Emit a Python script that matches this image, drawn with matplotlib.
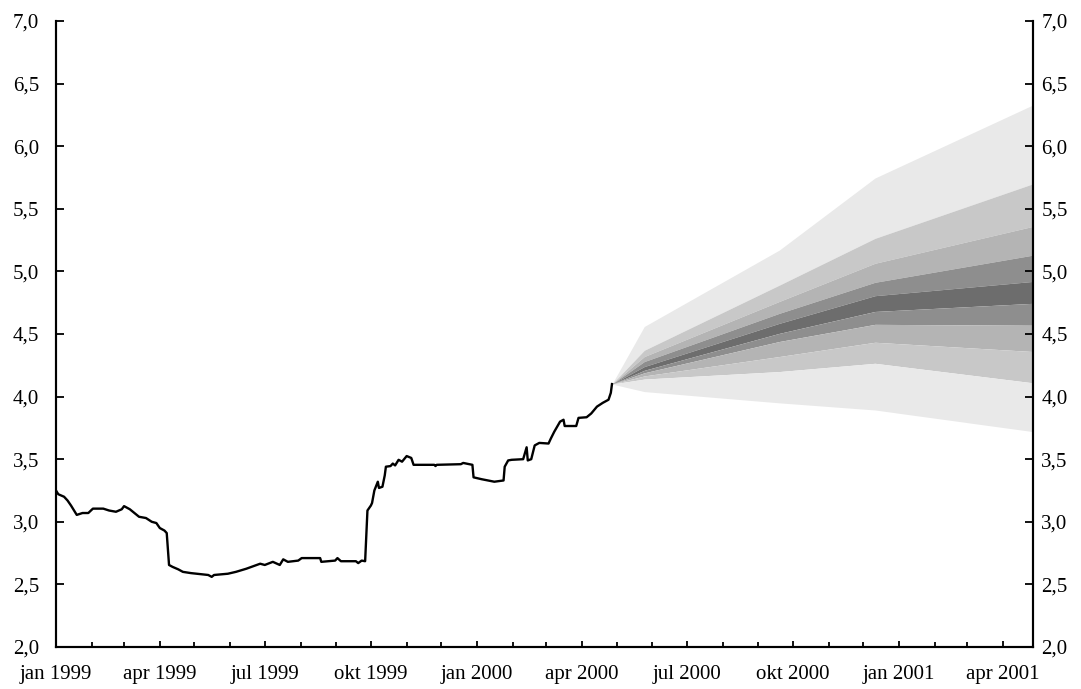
import matplotlib
matplotlib.use("Agg")
import matplotlib.pyplot as plt
import matplotlib.dates as mdates
import pandas as pd
from matplotlib.ticker import FixedLocator, FuncFormatter

# Observed rate (per cent)
hist_dates = [
    "1999-01-01", "1999-01-03", "1999-01-08", "1999-01-11", "1999-01-14", "1999-01-19",
    "1999-01-24", "1999-01-29", "1999-02-02", "1999-02-11", "1999-02-16", "1999-02-22",
    "1999-02-27", "1999-03-01", "1999-03-06", "1999-03-10", "1999-03-14", "1999-03-20",
    "1999-03-25", "1999-03-29", "1999-04-01", "1999-04-05", "1999-04-07", "1999-04-09",
    "1999-04-12", "1999-04-17", "1999-04-21", "1999-04-28", "1999-05-13", "1999-05-16",
    "1999-05-18", "1999-05-30", "1999-06-06", "1999-06-15", "1999-06-27", "1999-07-01",
    "1999-07-08", "1999-07-14", "1999-07-17", "1999-07-21", "1999-07-30", "1999-08-02",
    "1999-08-18", "1999-08-19", "1999-08-31", "1999-09-02", "1999-09-05", "1999-09-18",
    "1999-09-20", "1999-09-23", "1999-09-26", "1999-09-28", "1999-10-01", "1999-10-02",
    "1999-10-04", "1999-10-07", "1999-10-08", "1999-10-11", "1999-10-13", "1999-10-14",
    "1999-10-18", "1999-10-20", "1999-10-22", "1999-10-25", "1999-10-28", "1999-11-01",
    "1999-11-05", "1999-11-07", "1999-11-25", "1999-11-26", "1999-11-27", "1999-12-18",
    "1999-12-20", "1999-12-28", "1999-12-29", "2000-01-05", "2000-01-16", "2000-01-24",
    "2000-01-25", "2000-01-28", "2000-01-31", "2000-02-10", "2000-02-13", "2000-02-14",
    "2000-02-17", "2000-02-20", "2000-02-24", "2000-03-03", "2000-03-05", "2000-03-08",
    "2000-03-13", "2000-03-16", "2000-03-17", "2000-03-27", "2000-03-29", "2000-04-05",
    "2000-04-09", "2000-04-14", "2000-04-19", "2000-04-24", "2000-04-26", "2000-04-27",
]
hist_values = [
    3.25, 3.22, 3.20, 3.17, 3.13, 3.055,
    3.07, 3.07, 3.105, 3.105, 3.09, 3.08,
    3.10, 3.125, 3.10, 3.07, 3.04, 3.03,
    3.00, 2.99, 2.95, 2.93, 2.91, 2.655,
    2.64, 2.62, 2.60, 2.59, 2.575, 2.56,
    2.575, 2.585, 2.60, 2.625, 2.665, 2.655,
    2.68, 2.655, 2.70, 2.68, 2.69, 2.71,
    2.71, 2.68, 2.69, 2.71, 2.685, 2.685,
    2.67, 2.69, 2.685, 3.09, 3.13, 3.15,
    3.25, 3.32, 3.27, 3.28, 3.37, 3.44,
    3.445, 3.465, 3.45, 3.495, 3.48, 3.525,
    3.51, 3.455, 3.455, 3.445, 3.455, 3.46,
    3.47, 3.455, 3.355, 3.34, 3.32, 3.33,
    3.44, 3.49, 3.495, 3.50, 3.595, 3.49,
    3.50, 3.61, 3.63, 3.625, 3.665, 3.72,
    3.80, 3.815, 3.765, 3.765, 3.83, 3.835,
    3.865, 3.92, 3.95, 3.975, 4.03, 4.10,
]

# Forecast fan: band edges from top to bottom
fan_dates = ["2000-04-27", "2000-05-25", "2000-09-19", "2000-12-11", "2001-04-27"]
edge_1 = [4.10, 4.56, 5.17, 5.746, 6.33]
edge_2 = [4.10, 4.37, 4.89, 5.264, 5.70]
edge_3 = [4.10, 4.32, 4.76, 5.065, 5.36]
edge_4 = [4.10, 4.28, 4.665, 4.913, 5.13]
edge_5 = [4.10, 4.24, 4.585, 4.806, 4.92]
edge_6 = [4.10, 4.21, 4.505, 4.68, 4.745]
edge_7 = [4.10, 4.19, 4.44, 4.577, 4.57]
edge_8 = [4.10, 4.165, 4.32, 4.434, 4.36]
edge_9 = [4.10, 4.14, 4.20, 4.266, 4.11]
edge_10 = [4.10, 4.04, 3.95, 3.893, 3.72]

band_colors = ["#e9e9e9", "#c8c8c8", "#b4b4b4", "#8e8e8e", "#6d6d6d",
               "#8e8e8e", "#b4b4b4", "#c8c8c8", "#e9e9e9"]

y_ticks = [2.0, 2.5, 3.0, 3.5, 4.0, 4.5, 5.0, 5.5, 6.0, 6.5, 7.0]
month_names = {1: "jan", 4: "apr", 7: "jul", 10: "okt"}

plt.rcParams["font.family"] = ["Liberation Serif", "DejaVu Serif"]

fig = plt.figure(figsize=(10.81, 6.89), dpi=100)
ax = fig.add_axes([0.0518, 0.061, 0.9038, 0.9085])

hx = pd.to_datetime(hist_dates)
fx = pd.to_datetime(fan_dates)
edges = [edge_1, edge_2, edge_3, edge_4, edge_5, edge_6, edge_7, edge_8, edge_9, edge_10]
for i, color in enumerate(band_colors):
    ax.fill_between(fx, edges[i + 1], edges[i], color=color, linewidth=0, zorder=1)

ax.plot(hx, hist_values, color="black", linewidth=1.7, zorder=3)

ax.set_xlim(pd.Timestamp("1999-01-01"), pd.Timestamp("2001-04-27"))
ax.set_ylim(2.0, 7.0)

# x axis: quarterly labels, monthly minor ticks
ax.xaxis.set_major_locator(mdates.MonthLocator(bymonth=[1, 4, 7, 10]))
ax.xaxis.set_minor_locator(mdates.MonthLocator())


def fmt_date(x, pos=None):
    d = mdates.num2date(x)
    return f"{month_names.get(d.month, '')} {d.year}"


ax.xaxis.set_major_formatter(FuncFormatter(fmt_date))
ax.tick_params(axis="x", which="major", direction="in", length=4.5, width=1.3,
               labelsize=15, pad=13)
ax.tick_params(axis="x", which="minor", direction="in", length=3.5, width=1.3)

ax.yaxis.set_major_locator(FixedLocator(y_ticks))
ax.yaxis.set_major_formatter(FuncFormatter(lambda v, p: f"{v:.1f}".replace(".", ",")))
ax.tick_params(axis="y", direction="in", length=6, width=1.3, labelsize=15, pad=12)

ax2 = ax.twinx()
ax2.set_ylim(2.0, 7.0)
ax2.yaxis.set_major_locator(FixedLocator(y_ticks))
ax2.yaxis.set_major_formatter(FuncFormatter(lambda v, p: f"{v:.1f}".replace(".", ",")))
ax2.tick_params(axis="y", direction="in", length=6, width=1.3, labelsize=15, pad=6)

for a in (ax, ax2):
    a.spines["top"].set_visible(False)
    for s in ("left", "right", "bottom"):
        a.spines[s].set_linewidth(1.5)

fig.savefig("out.png", dpi=100)
